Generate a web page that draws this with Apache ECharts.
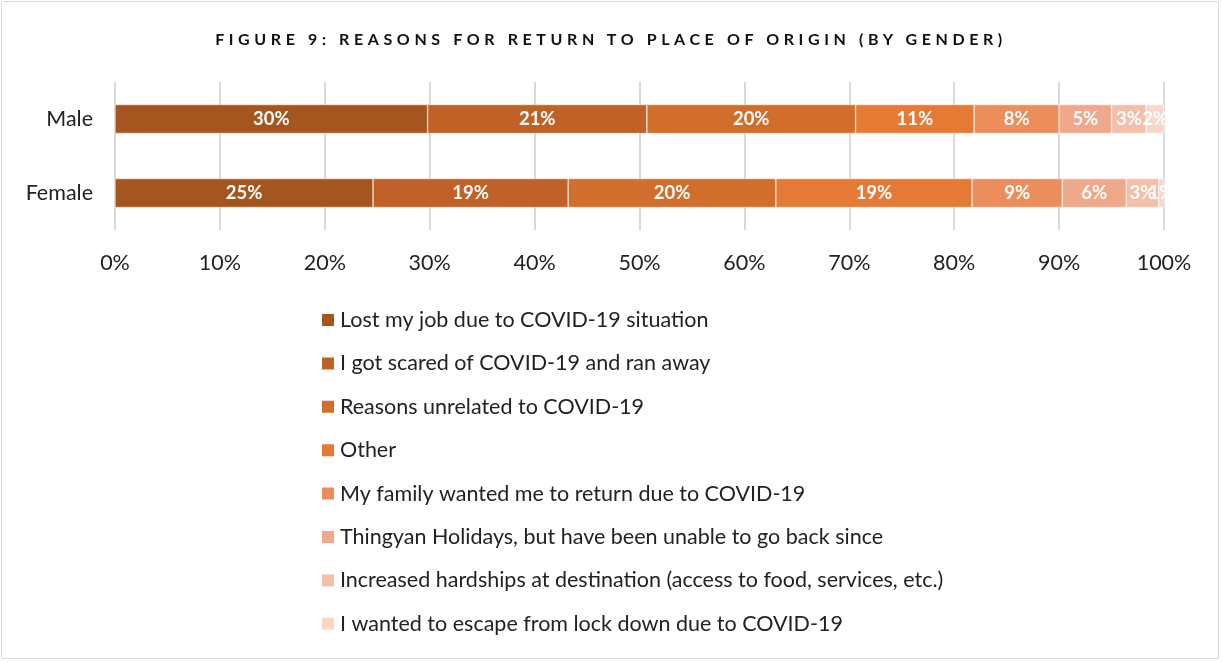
<!DOCTYPE html>
<html>
<head>
<meta charset="utf-8">
<script src="https://cdn.jsdelivr.net/npm/echarts@6/dist/echarts.min.js"></script>
<style>
  html, body { margin: 0; padding: 0; background: #fff; }
  #frame {
    position: absolute; left: 1px; top: 1px; width: 1218px; height: 658px;
    border: 1px solid #D9D9D9; border-radius: 2px; box-sizing: border-box;
  }
  #title {
    position: absolute; left: 0; width: 1222px; top: 29px; text-align: center;
    font-family: Lato, sans-serif; font-weight: bold; font-size: 16px;
    letter-spacing: 4.6px; color: #111;
  }
  #chart { position: absolute; left: 0; top: 0; width: 1222px; height: 662px; }
</style>
</head>
<body>
<div id="frame"></div>
<div id="chart"></div>
<div id="title">FIGURE 9: REASONS FOR RETURN TO PLACE OF ORIGIN (BY GENDER)</div>
<script>
const categories = ['Male', 'Female']
const reasons = [
    'Lost my job due to COVID-19 situation',
    'I got scared of COVID-19 and ran away',
    'Reasons unrelated to COVID-19',
    'Other',
    'My family wanted me to return due to COVID-19',
    'Thingyan Holidays, but have been unable to go back since',
    'Increased hardships at destination (access to food, services, etc.)',
    'I wanted to escape from lock down due to COVID-19'
]
// percent share per reason, [Male, Female]
const lostJob = [29.8, 24.6]
const scared = [20.9, 18.6]
const unrelated = [19.9, 19.8]
const other = [11.3, 18.7]
const family = [8.1, 8.6]
const thingyan = [5.0, 6.1]
const hardships = [3.3, 3.1]
const lockdown = [1.7, 0.6]
const xTicks = [0, 10, 20, 30, 40, 50, 60, 70, 80, 90, 100]

const values = [lostJob, scared, unrelated, other, family, thingyan, hardships, lockdown]
const colors = ['#A5561F', '#C06128', '#D26E2C', '#E47A33', '#EC8E5C', '#F0A88A', '#F4BEA8', '#F8D6C9']

const chart = echarts.init(document.getElementById('chart'))

const option = {
    animation: false,
    textStyle: { fontFamily: 'Lato, sans-serif' },
    grid: { left: 115, right: 58, top: 82, height: 148 },
    xAxis: {
        type: 'value',
        min: xTicks[0],
        max: xTicks[xTicks.length - 1],
        interval: 10,
        axisLabel: { formatter: '{value}%', fontSize: 21.5, color: '#222', margin: 22 },
        splitLine: { lineStyle: { color: '#D9D9D9', width: 2 } },
        axisLine: { show: false },
        axisTick: { show: false }
    },
    yAxis: {
        type: 'category',
        data: categories,
        inverse: true,
        axisLabel: { fontSize: 21.5, color: '#222', margin: 22 },
        axisLine: { show: false },
        axisTick: { show: false }
    },
    legend: {
        orient: 'vertical',
        left: 320,
        top: 309,
        padding: 0,
        itemWidth: 14,
        itemHeight: 14,
        itemGap: 21.4,
        icon: 'rect',
        textStyle: { fontSize: 21.5, color: '#222' },
        data: reasons
    },
    series: reasons.map((name, i) => ({
        name: name,
        type: 'bar',
        stack: 'total',
        barWidth: 29,
        data: values[i],
        itemStyle: { color: colors[i], borderColor: '#fff', borderWidth: 0.5 },
        label: {
            show: true,
            position: 'inside',
            color: '#fff',
            fontWeight: 'bold',
            fontSize: 18.5,
            formatter: p => Math.round(p.value) + '%'
        }
    }))
}

chart.setOption(option)
</script>
</body>
</html>
